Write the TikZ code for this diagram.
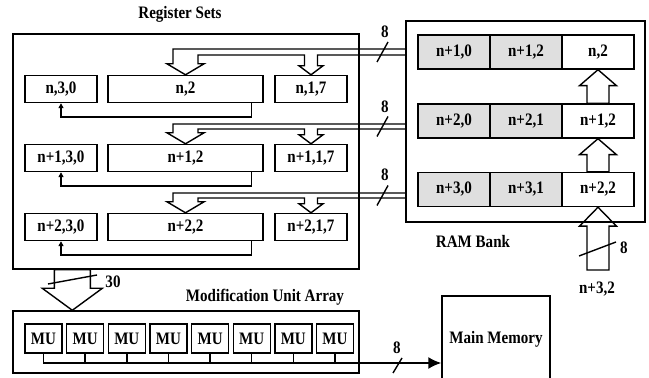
\documentclass[tikz,border=0pt]{standalone}
\usepackage{fontspec}
\setmainfont{Liberation Serif}[FakeStretch=0.86]
\usetikzlibrary{arrows.meta}

\newcommand{\dfont}{\fontsize{17.5pt}{20pt}\selectfont\bfseries}

\newcommand{\fatarrow}[5]{%
	\draw[line] ([xshift=-#3]#1) -- ([xshift=-#3,yshift=#5]#2) -- ([xshift=-#4,yshift=#5]#2) -- (#2) -- ([xshift=#4,yshift=#5]#2) -- ([xshift=#3,yshift=#5]#2) -- ([xshift=#3]#1) -- cycle;}

\newcommand{\rambus}[4]{%
	\coordinate (wl) at ([xshift=-12.5pt]#1.north);
	\coordinate (nl) at ([xshift=-6.5pt]#2.north);
	\draw[line] (ram.west |- 0,#3) -| ([yshift=11pt]wl) -- ++(-6,0) -- (#1.north) -- ++(18.5,11) -- ++(-6,0) |- (nl |- 0,#4) -- ([yshift=9pt]nl) -- ++(-5.5,0) -- (#2.north) -- ++(12,9) -- ++(-5.5,0) |- (ram.west |- 0,#4);}

\begin{document}
\begin{tikzpicture}[x=1pt, y=1pt,
		line/.style={line width=1.4pt},
		box/.style={draw, line width=1.4pt, inner sep=0pt, font=\dfont},
		cell/.style={box, minimum height=27pt},
		ramcell/.style={box, minimum width=72pt, minimum height=34pt},
		oldcell/.style={ramcell, fill=gray!25},
		mu/.style={box, minimum width=37pt, minimum height=29pt},
		lab/.style={font=\dfont},
		fb/.style={line, -{Triangle[length=5pt,width=5pt]}}]
		\useasboundingbox (0,0) rectangle (649,378);
		\clip (0,0) rectangle (649,378);
	
		\node[box, minimum width=346pt, minimum height=235pt] (regs) at (186,226.5) {};
		\node[lab] (regstitle) at (180,364) {Register Sets};
	
		\node[cell, minimum width=72pt] (a1) at (61,289) {n,3,0};
		\node[cell, minimum width=155pt] (b1) at (185.5,289) {n,2};
		\node[cell, minimum width=72pt] (c1) at (311,289) {n,1,7};
		\node[cell, minimum width=72pt] (a2) at (61,220) {n+1,3,0};
		\node[cell, minimum width=155pt] (b2) at (185.5,220) {n+1,2};
		\node[cell, minimum width=72pt] (c2) at (311,220) {n+1,1,7};
		\node[cell, minimum width=72pt] (a3) at (61,151) {n+2,3,0};
		\node[cell, minimum width=155pt] (b3) at (185.5,151) {n+2,2};
		\node[cell, minimum width=72pt] (c3) at (311,151) {n+2,1,7};
	
		\draw[fb] ([xshift=-12pt]b1.south east) -- ++(0,-14) -| (a1.south);
		\draw[fb] ([xshift=-12pt]b2.south east) -- ++(0,-14) -| (a2.south);
		\draw[fb] ([xshift=-12pt]b3.south east) -- ++(0,-14) -| (a3.south);
	
		\node[box, minimum width=239pt, minimum height=201pt] (ram) at (525.5,256.5) {};
		\node[lab] (ramtitle) at (473,136) {RAM Bank};
	
		\node[oldcell] (r1a) at (454,326) {n+1,0};
		\node[oldcell] (r1b) at (526,326) {n+1,2};
		\node[ramcell] (r1c) at (598,326) {n,2};
		\node[oldcell] (r2a) at (454,257) {n+2,0};
		\node[oldcell] (r2b) at (526,257) {n+2,1};
		\node[ramcell] (r2c) at (598,257) {n+1,2};
		\node[oldcell] (r3a) at (454,188.5) {n+3,0};
		\node[oldcell] (r3b) at (526,188.5) {n+3,1};
		\node[ramcell] (r3c) at (598,188.5) {n+2,2};
	
		\fatarrow{r2c.north}{r1c.south}{11pt}{18.5pt}{-16pt}
		\fatarrow{r3c.north}{r2c.south}{11pt}{18.5pt}{-16pt}
		\coordinate (ramin) at (r3c.south |- 0,108);
		\fatarrow{ramin}{r3c.south}{11pt}{18.5pt}{-19pt}
		\draw[line] ([shift={(-19,14)}]ramin) -- ++(37,14);
		\node[lab] (w4) at (624,130) {8};
		\node[lab] (in32) at (597,89) {n+3,2};
	
		\rambus{b1}{c1}{329}{323}
		\rambus{b2}{c2}{254}{249}
		\rambus{b3}{c3}{185}{180}
		\draw[line] (377,316) -- ++(11,20);
		\draw[line] (377,241.5) -- ++(11,20);
		\draw[line] (377,172.5) -- ++(11,20);
		\node[lab] (w1) at (385,346) {8};
		\node[lab] (w2) at (385,271) {8};
		\node[lab] (w3) at (385,203) {8};
	
		\node[box, minimum width=346pt, minimum height=62pt] (mua) at (186,36) {};
		\node[lab] (muatitle) at (265,81) {Modification Unit Array};
		\node[mu] (mu1) at (43.5,39.5) {MU};
		\node[mu] (mu2) at (85.1,39.5) {MU};
		\node[mu] (mu3) at (126.8,39.5) {MU};
		\node[mu] (mu4) at (168.4,39.5) {MU};
		\node[mu] (mu5) at (210.1,39.5) {MU};
		\node[mu] (mu6) at (251.7,39.5) {MU};
		\node[mu] (mu7) at (293.3,39.5) {MU};
		\node[mu] (mu8) at (335,39.5) {MU};
	
		\coordinate (tip30) at ([xshift=60pt]mua.north west);
		\coordinate (base30) at (tip30 |- regs.south);
		\fatarrow{base30}{tip30}{18pt}{30pt}{22pt}
		\draw[line] (48,94) -- (97,103);
		\node[lab] (w30) at (113,96) {30};
	
		\node[box, minimum width=108pt, minimum height=86pt] (mem) at (496,39) {Main Memory};
	
		\draw[line, line width=1.8pt, -{Latex[length=13pt,width=12pt]}] (mu1.south) |- (mem.west |- 0,15);
		\draw[line] (mu2.south) -- (mu2.south |- 0,15);
		\draw[line] (mu3.south) -- (mu3.south |- 0,15);
		\draw[line] (mu4.south) -- (mu4.south |- 0,15);
		\draw[line] (mu5.south) -- (mu5.south |- 0,15);
		\draw[line] (mu6.south) -- (mu6.south |- 0,15);
		\draw[line] (mu7.south) -- (mu7.south |- 0,15);
		\draw[line] (mu8.south) -- (mu8.south |- 0,15);
		\draw[line] (393,5) -- (402,20);
		\node[lab] (w5) at (397,30) {8};
	\end{tikzpicture}
\end{document}
